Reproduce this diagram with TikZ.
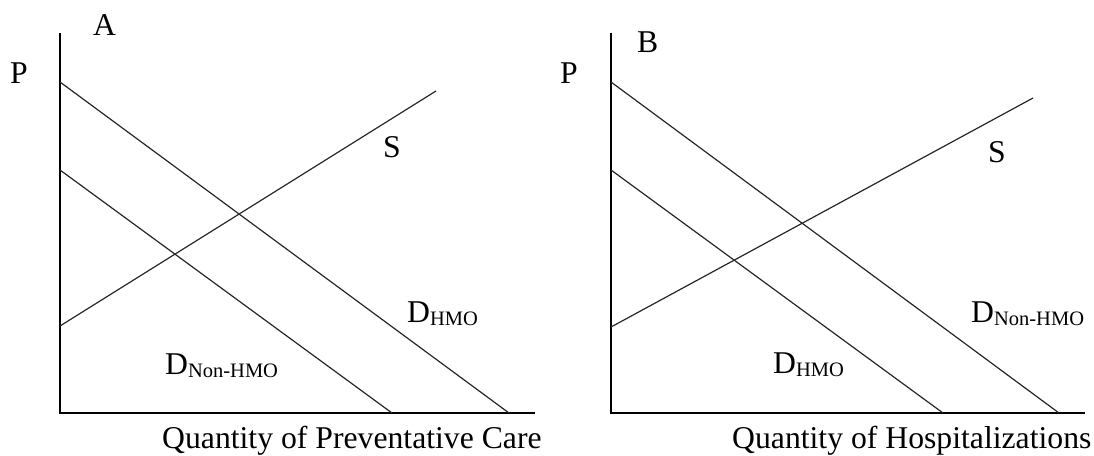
\documentclass[tikz,border=0pt]{standalone}
\usepackage{fontspec}
\setmainfont{Liberation Serif}
\begin{document}
\begin{tikzpicture}[x=1pt,y=-1pt,
  lbl/.style={inner sep=0pt,anchor=base west,font=\fontsize{31.7}{31.7}\selectfont},
  axisline/.style={line width=1.5pt,black},
  curve/.style={line width=1.2pt,black!85}]
\newcommand{\sbx}[1]{\raisebox{-3pt}{\fontsize{20.5}{20.5}\selectfont #1}}
\useasboundingbox (0,0) rectangle (1094,455);
% Panel A
\coordinate (aT) at (60,33);
\coordinate (aO) at (60,413);
\coordinate (aR) at (535,413);
\coordinate (ahS) at (60,82);
\coordinate (ahE) at (509,413);
\coordinate (anS) at (60,170);
\coordinate (anE) at (392,413);
\coordinate (asS) at (60,326);
\coordinate (asE) at (436,91);
\draw[axisline] (aT) -- (aO) -- (aR);
\draw[curve] (ahS) -- (ahE);
\draw[curve] (anS) -- (anE);
\draw[curve] (asS) -- (asE);
\node[lbl] (aA) at (93,35) {A};
\node[lbl] (aP) at (10,83) {P};
\node[lbl] (aSl) at (383,157) {S};
\node[lbl] (aDh) at (407,322) {D\sbx{HMO}};
\node[lbl] (aDn) at (165,374) {D\sbx{Non-HMO}};
\node[lbl] (aQ) at (162,448) {Quantity of Preventative Care};
% Panel B
\coordinate (bT) at (611,33);
\coordinate (bO) at (611,413);
\coordinate (bR) at (1085,413);
\coordinate (bnS) at (611,82);
\coordinate (bnE) at (1059,413);
\coordinate (bhS) at (611,170);
\coordinate (bhE) at (943,413);
\coordinate (bsS) at (611,327);
\coordinate (bsE) at (1033,98);
\draw[axisline] (bT) -- (bO) -- (bR);
\draw[curve] (bnS) -- (bnE);
\draw[curve] (bhS) -- (bhE);
\draw[curve] (bsS) -- (bsE);
\node[lbl] (bB) at (637,52) {B};
\node[lbl] (bP) at (560,83) {P};
\node[lbl] (bSl) at (988,162) {S};
\node[lbl] (bDn) at (971,322) {D\sbx{Non-HMO}};
\node[lbl] (bDh) at (773,373) {D\sbx{HMO}};
\node[lbl] (bQ) at (732,448) {Quantity of Hospitalizations};
\end{tikzpicture}
\end{document}
